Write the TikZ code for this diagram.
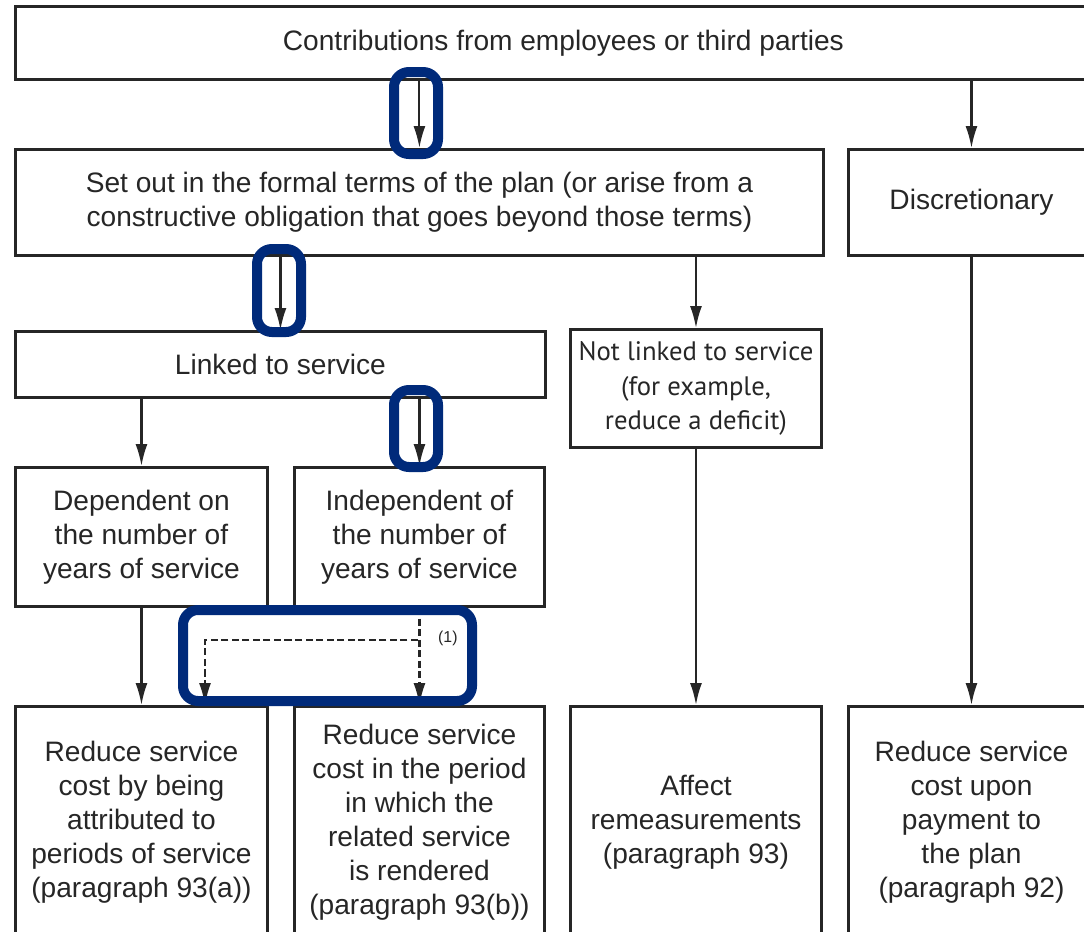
\documentclass[tikz,border=0pt]{standalone}
\usepackage{fontspec}
\setmainfont{Liberation Sans}
\newfontfamily\humanist{PT Sans}
\usetikzlibrary{arrows.meta,positioning}
\definecolor{navy}{RGB}{0,42,122}
\definecolor{ink}{RGB}{38,38,38}
\tikzstyle{block} = [
  rectangle, draw=ink, text=ink, line width=1.7pt, align=center,
  inner sep=0pt, anchor=north west, font=\fontsize{16}{19.4}\selectfont
]
\tikzstyle{flow} = [draw=ink, line width=1.2pt, -{Latex[length=0.44cm,width=0.24cm]}]
\tikzstyle{optflow} = [flow, dash pattern=on 4pt off 2pt]
\tikzstyle{highlight} = [draw=navy, line width=0.2cm, rounded corners=0.3cm]

\begin{document}
\begin{tikzpicture}[x=0.02cm, y=-0.02cm]
    \useasboundingbox (0,0) rectangle (1084,931);
    \clip (0,0) rectangle (1084,931);

    % first two levels
    \node[block, minimum width=21.92cm, minimum height=1.46cm] (contrib) at (14,5)
      {Contributions from employees or third parties};
    \node[block, minimum width=16.16cm, minimum height=2.12cm] (formal) at (14,148)
      {Set out in the formal terms of the plan (or arise from a\\
       constructive obligation that goes beyond those terms)};
    \node[block, minimum width=4.92cm, minimum height=2.12cm] (discr) at (847,148)
      {Discretionary};

    % service link
    \node[block, minimum width=10.6cm, minimum height=1.32cm] (linked) at (14,330)
      {Linked to service};
    \node[block, minimum width=5.02cm, minimum height=2.36cm,
      font=\humanist\fontsize{15.2}{19.4}\selectfont] (notlinked) at (569,328)
      {Not linked to service\\ (for example,\\ reduce a deficit)};
    \node[block, minimum width=5.04cm, minimum height=2.78cm] (dep) at (14,466)
      {Dependent on\\ the number of\\ years of service};
    \node[block, minimum width=5.0cm, minimum height=2.78cm] (indep) at (293,466)
      {Independent of\\ the number of\\ years of service};

    % outcomes
    \node[block, minimum width=5.04cm, minimum height=4.62cm] (attrib) at (14,705)
      {Reduce service\\ cost by being\\ attributed to\\ periods of service\\ (paragraph 93(a))};
    \node[block, minimum width=5.0cm, minimum height=4.62cm] (rendered) at (293,705)
      {Reduce service\\ cost in the period\\ in which the\\ related service\\ is rendered\\ (paragraph 93(b))};
    \node[block, minimum width=5.02cm, minimum height=4.62cm] (remeas) at (569,705)
      {Affect\\ remeasurements\\ (paragraph 93)};
    \node[block, minimum width=4.92cm, minimum height=4.62cm] (payment) at (847,705)
      {Reduce service\\ cost upon\\ payment to\\ the plan\\ (paragraph 92)};

    \draw[flow] (formal.north |- contrib.south) -- (formal.north);
    \draw[flow] (discr.north |- contrib.south) -- (discr.north);
    \draw[flow] (linked.north |- formal.south) -- (linked.north);
    \draw[flow] (notlinked.north |- formal.south) -- (notlinked.north);
    \draw[flow] (dep.north |- linked.south) -- (dep.north);
    \draw[flow] (indep.north |- linked.south) -- (indep.north);
    \draw[flow] (dep.south) -- (attrib.north);
    \draw[flow] (notlinked.south) -- (notlinked.south |- remeas.north);
    \draw[flow] (discr.south) -- (payment.north);

    % optional route
    \coordinate (split) at (418,640);
    \coordinate (bend) at (205,640);
    \draw[optflow] (indep.south) -- (rendered.north);
    \draw[optflow] (split) -- (bend) -- (bend |- attrib.north);
    \node[text=ink, font=\fontsize{9}{11}\selectfont, anchor=west] (note) at (432,638) {(1)};

    % highlights
    \draw[highlight] (394,72) rectangle (438,154);
    \draw[highlight] (257,249) rectangle (301,332);
    \draw[highlight] (394,390) rectangle (438,467);
    \draw[highlight] (183,610) rectangle (472,701);
\end{tikzpicture}
\end{document}
